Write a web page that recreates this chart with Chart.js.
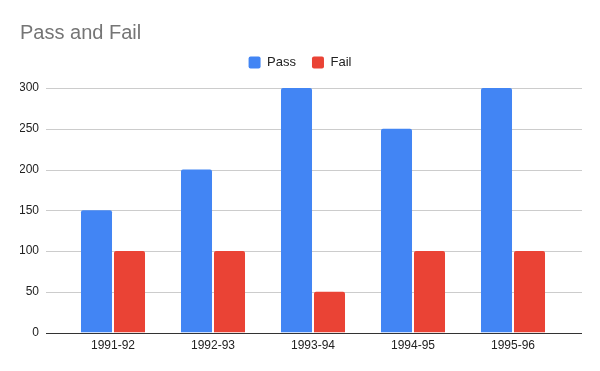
<!DOCTYPE html>
<html>
<head>
<meta charset="utf-8">
<script src="https://cdn.jsdelivr.net/npm/chart.js@4/dist/chart.umd.min.js"></script>
<style>
  html, body { margin: 0; padding: 0; background: #fff; }
  #wrap { position: relative; width: 600px; height: 371px; }
</style>
</head>
<body>
<div id="wrap"><canvas id="chartPassFail"></canvas></div>
<script>
// dados
const years = ['1991-92', '1992-93', '1993-94', '1994-95', '1995-96'];
const passValues = [150, 200, 300, 250, 300];
const failValues = [100, 100, 50, 100, 100];
const yTicks = [0, 50, 100, 150, 200, 250, 300];

const FONT = '"Liberation Sans", Arial, sans-serif';

// grade horizontal mais larga que a area do grafico (estilo planilha)
const wideGrid = {
  id: 'wideGrid',
  beforeDatasetsDraw(chart) {
    const { ctx, scales: { y } } = chart;
    ctx.save();
    yTicks.forEach((v) => {
      const py = Math.round(y.getPixelForValue(v)) + 0.5;
      ctx.strokeStyle = v === 0 ? '#333333' : '#cccccc';
      ctx.lineWidth = 1;
      ctx.beginPath();
      ctx.moveTo(46, py);
      ctx.lineTo(582, py);
      ctx.stroke();
    });
    ctx.restore();
  },
};

const barStyle = { categoryPercentage: 0.66, barPercentage: 0.94, borderRadius: { topLeft: 2, topRight: 2 }, borderSkipped: 'bottom' };

new Chart(document.getElementById('chartPassFail'), {
  type: 'bar',
  data: {
    labels: years,
    datasets: [
      { label: 'Pass', data: passValues, backgroundColor: '#4285f4', ...barStyle },
      { label: 'Fail', data: failValues, backgroundColor: '#ea4335', ...barStyle },
    ],
  },
  options: {
    responsive: true,
    maintainAspectRatio: false,
    animation: false,
    layout: { padding: { left: 20, right: 20, top: 21, bottom: 12 } },
    plugins: {
      title: {
        display: true,
        text: 'Pass and Fail',
        align: 'start',
        color: '#757575',
        font: { family: FONT, size: 20, weight: 'normal' },
        padding: { top: 0, bottom: -5 },
      },
      legend: {
        position: 'top',
        labels: {
          color: '#222222',
          font: { family: FONT, size: 13 },
          boxWidth: 12,
          boxHeight: 12,
          useBorderRadius: true,
          borderRadius: 2,
          padding: 16,
        },
      },
      tooltip: { enabled: false },
    },
    scales: {
      x: {
        grid: { display: false, drawTicks: false },
        border: { display: false },
        ticks: { color: '#222222', font: { family: FONT, size: 12 }, padding: 6 },
      },
      // eixo vazio so para o respiro entre legenda e grafico
      xTop: {
        type: 'category',
        position: 'top',
        grid: { display: false, drawTicks: false },
        border: { display: false },
        ticks: { display: false },
        afterFit: (scale) => { scale.height = 9; },
      },
      y: {
        min: 0,
        max: 300,
        grid: { display: false, drawTicks: false },
        border: { display: false },
        afterBuildTicks: (scale) => { scale.ticks = yTicks.map((v) => ({ value: v })); },
        afterFit: (scale) => { scale.width = 43; },
        ticks: { color: '#222222', font: { family: FONT, size: 12 }, padding: 24 },
      },
      // eixo vazio so para reservar a margem direita
      yRight: {
        position: 'right',
        grid: { display: false, drawTicks: false },
        border: { display: false },
        ticks: { display: false },
        afterFit: (scale) => { scale.width = 17; },
      },
    },
  },
  plugins: [wideGrid],
});
</script>
</body>
</html>
